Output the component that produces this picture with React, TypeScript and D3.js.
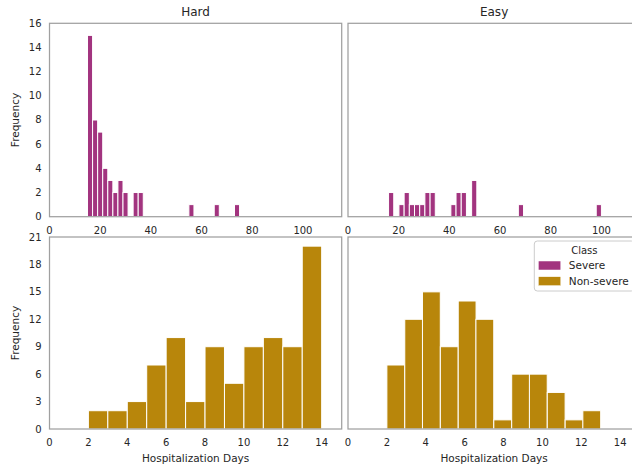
import React, { useEffect, useRef } from 'react';
import * as d3 from 'd3';

const facets = ['Hard', 'Easy'];
const classes = ['Severe', 'Non-severe'];
const classColors = ['#a2347f', '#b8860b'];

// severe: hospitalization days, bin left edges + counts
const hardSevereBins = [15, 17, 19, 21, 23, 25, 27, 29, 33, 35, 55, 65, 73];
const hardSevereCounts = [15, 8, 7, 4, 3, 2, 3, 2, 2, 2, 1, 1, 1];
const hardSevereBinWidth = 2;

const easySevereBins = [16, 20.1, 22.15, 24.2, 26.24, 28.29, 30.34, 32.39, 40.59, 42.63, 44.68, 48.78, 67.22, 97.95];
const easySevereCounts = [2, 1, 2, 1, 1, 1, 2, 2, 1, 2, 2, 3, 1, 1];
const easySevereBinWidth = 2.05;

// non-severe
const hardNonSevereBins = [2, 3, 4, 5, 6, 7, 8, 9, 10, 11, 12, 13];
const hardNonSevereCounts = [2, 2, 3, 7, 10, 3, 9, 5, 9, 10, 9, 20];
const hardNonSevereBinWidth = 1;

const easyNonSevereBins = [2, 2.92, 3.83, 4.75, 5.67, 6.58, 7.5, 8.42, 9.33, 10.25, 11.17, 12.08];
const easyNonSevereCounts = [7, 12, 15, 9, 14, 12, 1, 6, 6, 4, 1, 2];
const easyNonSevereBinWidth = 0.917;

const severeXTicks = [0, 20, 40, 60, 80, 100];
const nonSevereXTicks = [0, 2, 4, 6, 8, 10, 12, 14];
const severeYTicks = [0, 2, 4, 6, 8, 10, 12, 14, 16];
const nonSevereYTicks = [0, 3, 6, 9, 12, 15, 18, 21];

const toBins = (starts, counts, w) => starts.map((s, i) => ({ x0: s, x1: s + w, n: counts[i] }));

const App = () => {
  const ref = useRef(null);

  useEffect(() => {
    const svg = d3.select(ref.current);
    svg.selectAll('*').remove();

    const font = 'DejaVu Sans, sans-serif';
    const textColor = '#262626';
    const panelW = 292.2;
    const colX = [49.5, 348];
    const rows = [
      {
        top: 23.3, h: 193.4, xMax: 115.3, yMax: 16,
        xTicks: severeXTicks, yTicks: severeYTicks, color: classColors[0],
        data: [
          toBins(hardSevereBins, hardSevereCounts, hardSevereBinWidth),
          toBins(easySevereBins, easySevereCounts, easySevereBinWidth),
        ],
      },
      {
        top: 237, h: 192, xMax: 15.03, yMax: 21,
        xTicks: nonSevereXTicks, yTicks: nonSevereYTicks, color: classColors[1],
        data: [
          toBins(hardNonSevereBins, hardNonSevereCounts, hardNonSevereBinWidth),
          toBins(easyNonSevereBins, easyNonSevereCounts, easyNonSevereBinWidth),
        ],
      },
    ];

    rows.forEach((row, ri) => {
      const x = d3.scaleLinear().domain([0, row.xMax]).range([0, panelW]);
      const y = d3.scaleLinear().domain([0, row.yMax]).range([row.h, 0]);

      facets.forEach((facet, ci) => {
        const g = svg.append('g').attr('transform', `translate(${colX[ci]},${row.top})`);

        g.append('rect')
          .attr('width', panelW)
          .attr('height', row.h)
          .attr('fill', 'white');

        g.selectAll('rect.bar')
          .data(row.data[ci])
          .enter()
          .append('rect')
          .attr('class', 'bar')
          .attr('x', (d) => x(d.x0))
          .attr('y', (d) => y(d.n))
          .attr('width', (d) => x(d.x1) - x(d.x0))
          .attr('height', (d) => row.h - y(d.n))
          .attr('fill', row.color)
          .attr('stroke', 'white')
          .attr('stroke-width', 1);

        g.append('rect')
          .attr('width', panelW)
          .attr('height', row.h)
          .attr('fill', 'none')
          .attr('stroke', '#a0a0a0')
          .attr('stroke-width', 1.25);

        // x tick labels
        g.selectAll('text.xt')
          .data(row.xTicks)
          .enter()
          .append('text')
          .attr('x', (d) => x(d))
          .attr('y', row.h + 13.5)
          .attr('dy', '0.35em')
          .attr('text-anchor', 'middle')
          .attr('font-family', font)
          .attr('font-size', 10)
          .attr('fill', textColor)
          .text((d) => d);

        if (ci === 0) {
          g.selectAll('text.yt')
            .data(row.yTicks)
            .enter()
            .append('text')
            .attr('x', -8)
            .attr('y', (d) => y(d))
            .attr('dy', '0.35em')
            .attr('text-anchor', 'end')
            .attr('font-family', font)
            .attr('font-size', 10)
            .attr('fill', textColor)
            .text((d) => d);

          g.append('text')
            .attr('transform', `translate(${15 - colX[0]},${row.h / 2}) rotate(-90)`)
            .attr('dy', '0.35em')
            .attr('text-anchor', 'middle')
            .attr('font-family', font)
            .attr('font-size', 10.5)
            .attr('fill', textColor)
            .text('Frequency');
        }

        if (ri === 0) {
          g.append('text')
            .attr('x', panelW / 2)
            .attr('y', -12)
            .attr('dy', '0.35em')
            .attr('text-anchor', 'middle')
            .attr('font-family', font)
            .attr('font-size', 12)
            .attr('fill', textColor)
            .text(facet);
        } else {
          g.append('text')
            .attr('x', panelW / 2)
            .attr('y', row.h + 29)
            .attr('dy', '0.35em')
            .attr('text-anchor', 'middle')
            .attr('font-family', font)
            .attr('font-size', 10.5)
            .attr('fill', textColor)
            .text('Hospitalization Days');
        }
      });
    });

    // legend
    const lg = svg.append('g').attr('transform', 'translate(534.3,241)');
    lg.append('rect')
      .attr('width', 100)
      .attr('height', 50)
      .attr('rx', 3)
      .attr('fill', 'white')
      .attr('fill-opacity', 0.8)
      .attr('stroke', '#cccccc')
      .attr('stroke-width', 1);
    lg.append('text')
      .attr('x', 50)
      .attr('y', 9)
      .attr('dy', '0.35em')
      .attr('text-anchor', 'middle')
      .attr('font-family', font)
      .attr('font-size', 10)
      .attr('fill', textColor)
      .text('Class');
    classes.forEach((c, i) => {
      lg.append('rect')
        .attr('x', 4)
        .attr('y', 20 + i * 15.7)
        .attr('width', 22.5)
        .attr('height', 9)
        .attr('fill', classColors[i])
        .attr('stroke', 'white')
        .attr('stroke-width', 0.5);
      lg.append('text')
        .attr('x', 34.5)
        .attr('y', 24.5 + i * 16)
        .attr('dy', '0.35em')
        .attr('font-family', font)
        .attr('font-size', 10.5)
        .attr('fill', textColor)
        .text(c);
    });
  }, []);

  return (
    <svg
      ref={ref}
      width={632}
      height={468}
      style={{ position: 'absolute', left: 0, top: 0, background: 'white' }}
    />
  );
};

export default App;
